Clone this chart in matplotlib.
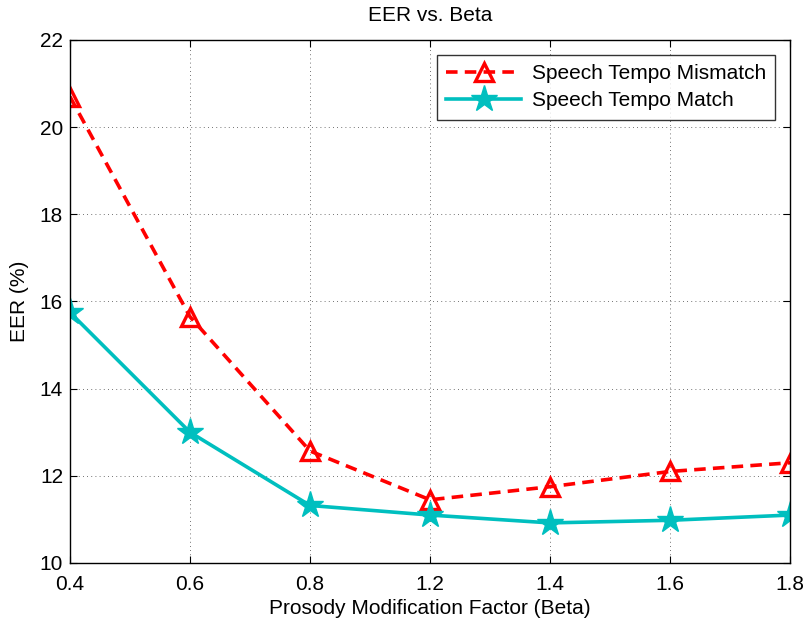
import matplotlib
matplotlib.use("Agg")
import matplotlib.pyplot as plt

# Prosody modification factors (evenly spaced categories)
beta_labels = ["0.4", "0.6", "0.8", "1.2", "1.4", "1.6", "1.8"]
eer_mismatch = [20.7, 15.65, 12.57, 11.45, 11.75, 12.1, 12.3]
eer_match = [15.75, 13.0, 11.32, 11.1, 10.92, 10.98, 11.1]
y_ticks = [10, 12, 14, 16, 18, 20, 22]

plt.rcParams["font.family"] = ["Liberation Sans", "DejaVu Sans"]
FS = 15

fig = plt.figure(figsize=(8.07, 6.21), dpi=100)
ax = fig.add_axes([0.0867, 0.0934, 0.8923, 0.8422])

pos = list(range(len(beta_labels)))
cyan = (0, 0.75, 0.75)
ax.plot(pos, eer_mismatch, color="red", linestyle=(0, (3.2, 2.0)), linewidth=2.6,
        marker="^", markersize=13, markerfacecolor="none", markeredgecolor="red",
        markeredgewidth=2.4, label="Speech Tempo Mismatch")
ax.plot(pos, eer_match, color=cyan, linestyle="-", linewidth=2.6,
        marker="*", markersize=20, markerfacecolor=cyan,
        markeredgecolor=cyan, label="Speech Tempo Match")

ax.set_xlim(0, len(beta_labels) - 1)
ax.set_ylim(10, 22)
ax.set_xticks(pos)
ax.set_xticklabels(beta_labels)
ax.set_yticks(y_ticks)
ax.tick_params(direction="in", length=5, width=0.8, labelsize=FS, top=True, right=True)
ax.tick_params(axis="x", pad=9)
ax.tick_params(axis="y", pad=5)
ax.grid(True, color="#444444", linestyle=(0, (1, 4)), linewidth=0.6)
for s in ax.spines.values():
    s.set_linewidth(1.0)

ax.set_xlabel("Prosody Modification Factor (Beta)", fontsize=FS, labelpad=3)
ax.set_ylabel("EER (%)", fontsize=FS, labelpad=8)
ax.set_title("EER vs. Beta", fontsize=FS, pad=14)

leg = ax.legend(loc="upper right", fontsize=FS, frameon=True, fancybox=False,
                edgecolor="black", handlelength=3.6, borderaxespad=0.7,
                borderpad=0.45, labelspacing=0.4, handletextpad=0.5,
                markerscale=1.0)
leg.get_frame().set_linewidth(1.0)

fig.savefig("out.png", dpi=100)
